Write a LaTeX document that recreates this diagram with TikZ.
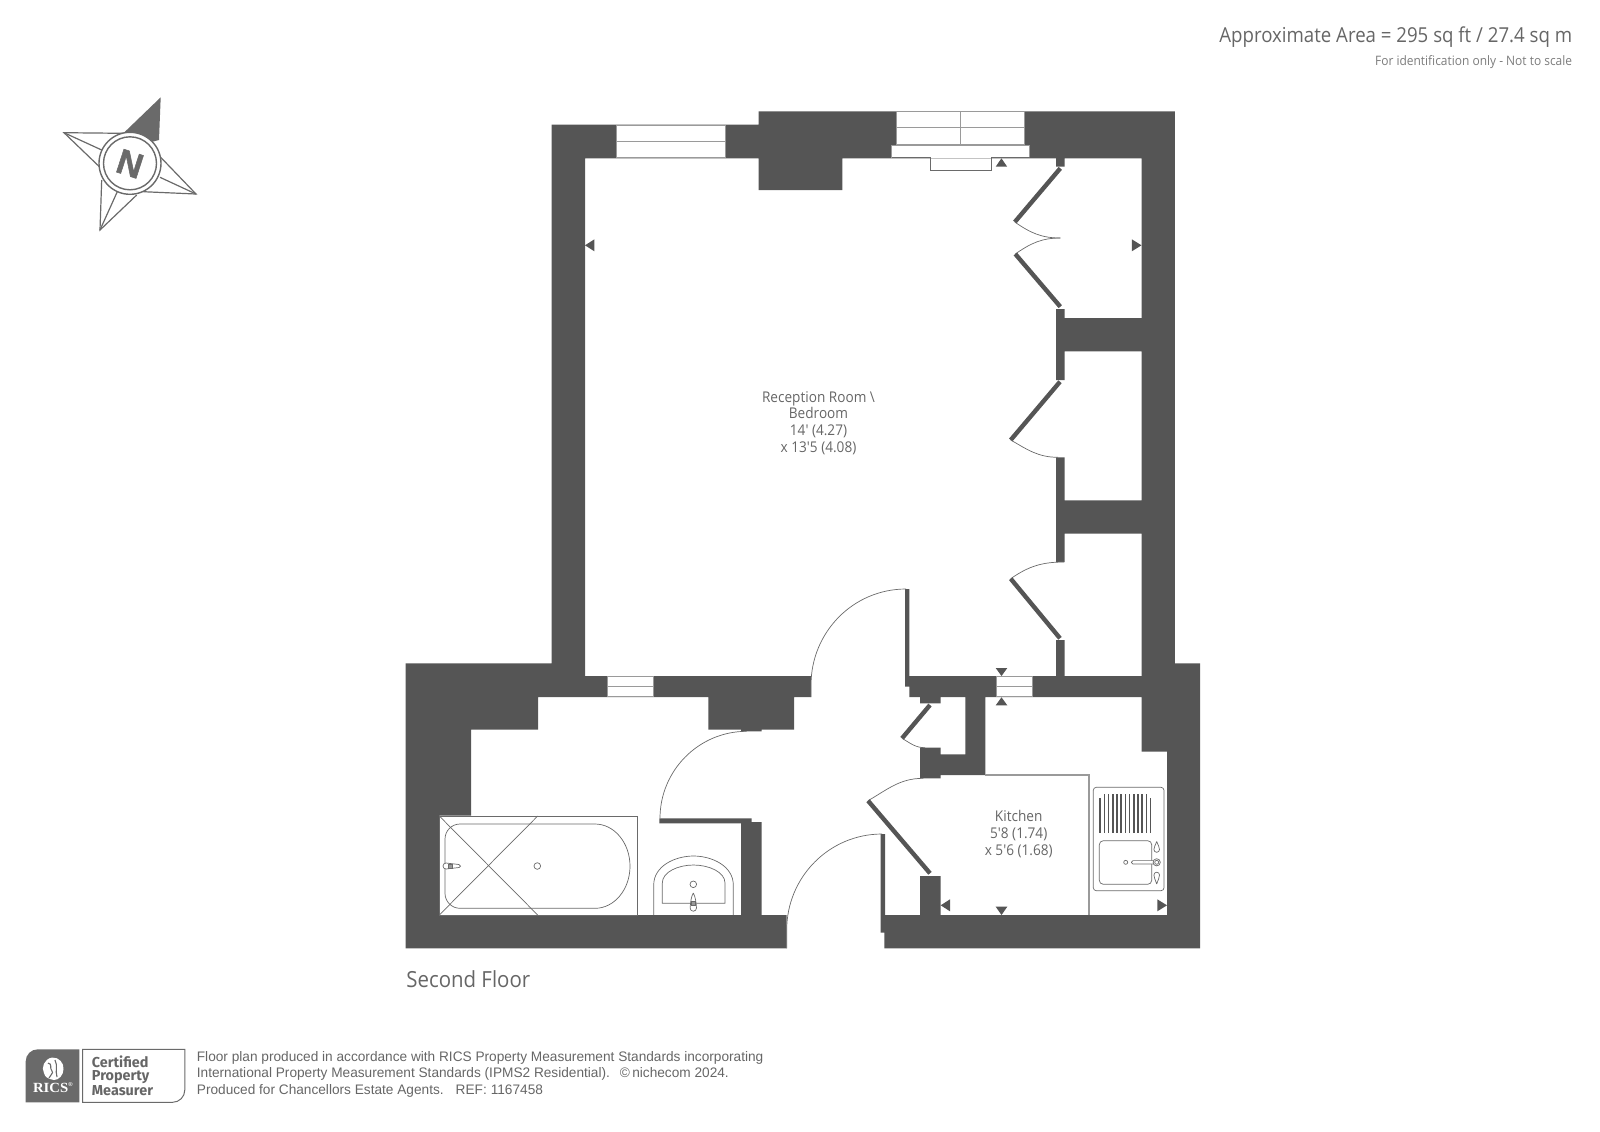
\documentclass[tikz,border=0pt]{standalone}
\usepackage{fontspec}
\setmainfont{Open Sans}
\newfontfamily\planfont[FakeStretch=0.92]{Open Sans}
\newfontfamily\areafont[FakeStretch=0.905]{Open Sans}
\newfontfamily\rulefont[FakeStretch=0.99]{Liberation Sans}
\newfontfamily\needlefont[UprightFont=* Bold, FakeBold=1.5]{Liberation Sans}
\newfontfamily\ricsfont[UprightFont=* Bold, FakeStretch=1.05]{Liberation Serif}
\newfontfamily\badgefont{Fira Sans}
\definecolor{wallgrey}{HTML}{555555}
\definecolor{linegrey}{HTML}{6A6A6A}
\definecolor{textgrey}{HTML}{666666}
\definecolor{notegrey}{HTML}{7C7C7C}
\definecolor{unitgrey}{HTML}{9A9A9A}

\begin{document}
\begin{tikzpicture}[
        x=0.5pt, y=-0.5pt,
        wall/.style={fill=wallgrey},
        thinline/.style={draw=linegrey, line width=0.35pt},
        pane/.style={fill=white, draw=unitgrey, line width=0.3pt},
        leaf/.style={draw=wallgrey, line width=2.2pt},
        swing/.style={draw=linegrey, line width=0.35pt},
        marker/.style={fill=wallgrey},
        roomtext/.style={font=\planfont\fontsize{7.4}{8.35}\selectfont, text=textgrey, align=center, inner sep=0pt},
        ruletext/.style={font=\rulefont\fontsize{6.9}{8}\selectfont, text=textgrey, anchor=west, inner sep=0pt},
        badgetext/.style={font=\badgefont\bfseries\fontsize{7.2}{7.2}\selectfont, text=textgrey, anchor=west, inner sep=0pt}
        ]
        \useasboundingbox (0,0) rectangle (1600,1131);

        % all the walls in one outline
        \fill[wall] (551.5,124.7) -- (758.5,124.7) -- (758.5,111.3) -- (1174.8,111.3) -- (1174.8,663.3) -- (1200,663.3)
            -- (1200,948.3) -- (884.3,948.3) -- (884.3,932.7) -- (880.7,932.7) -- (880.7,834) -- (885,834) -- (885,915)
            -- (920,915) -- (920,876) -- (940.7,876) -- (940.7,915) -- (1167,915) -- (1167,751.7) -- (1141.7,751.7)
            -- (1141.7,697) -- (985.3,697) -- (985.3,775) -- (940.7,775) -- (940.7,778.3) -- (920,778.3) -- (920,747.7)
            -- (940.7,747.7) -- (940.7,754.3) -- (965.3,754.3) -- (965.3,697) -- (940.7,697) -- (940.7,703.3) -- (920,703.3)
            -- (920,697) -- (909.3,697) -- (909.3,686.7) -- (905,686.7) -- (905,589) -- (909.3,589) -- (909.3,676)
            -- (1056,676) -- (1056,640) -- (1064.7,640) -- (1064.7,676) -- (1141.7,676) -- (1141.7,533.7) -- (1064.7,533.7)
            -- (1064.7,562) -- (1056,562) -- (1056,457.3) -- (1064.7,457.3) -- (1064.7,500.3) -- (1141.7,500.3)
            -- (1141.7,351.3) -- (1064.7,351.3) -- (1064.7,380) -- (1056,380) -- (1056,309) -- (1064.7,309) -- (1064.7,318)
            -- (1141.7,318) -- (1141.7,158.3) -- (1064.7,158.3) -- (1064.7,166.7) -- (1056,166.7) -- (1056,158.3)
            -- (842.3,158.3) -- (842.3,190) -- (758.5,190) -- (758.5,158.3) -- (585,158.3) -- (585,676) -- (811,676)
            -- (811,697) -- (794,697) -- (794,729.7) -- (761.7,729.7) -- (761.7,731.3) -- (741,731.3) -- (741,729.7)
            -- (708.3,729.7) -- (708.3,697) -- (538,697) -- (538,729.7) -- (471,729.7) -- (471,815.7) -- (439.3,815.7)
            -- (439.3,915) -- (741,915) -- (741,823.3) -- (659.3,823.3) -- (659.3,818.3) -- (751.7,818.3) -- (751.7,822)
            -- (761.7,822) -- (761.7,915) -- (786.7,915) -- (786.7,948.3) -- (405.7,948.3) -- (405.7,663.3) -- (551.5,663.3) -- cycle;

        % windows
        \draw[pane] (616.3,125.3) rectangle (724.9,141.7);
        \draw[pane] (616.3,141.7) rectangle (724.9,157.7);
        \draw[pane] (896.2,111.7) rectangle (960.5,127.7);
        \draw[pane] (960.5,111.7) rectangle (1024.5,127.7);
        \draw[pane] (896.2,127.7) rectangle (960.5,144);
        \draw[pane] (960.5,127.7) rectangle (1024.5,144);
        \fill[white] (891.5,145) rectangle (1029.6,158.3);
        \draw[thinline, draw=unitgrey] (891.5,157.7) -- (891.5,145) -- (1029.6,145) -- (1029.6,157.7);
        \draw[thinline] (891.5,157.7) -- (930.2,157.7) -- (930.2,170.7) -- (990.9,170.7) -- (990.9,157.7) -- (1029.6,157.7);
        \draw[pane] (607,676.7) rectangle (653,686.7);
        \draw[pane] (607,686.7) rectangle (653,696.7);
        \draw[pane] (996.3,676.7) rectangle (1032,686.7);
        \draw[pane] (996.3,686.7) rectangle (1032,696.7);

        % doors
        \draw[leaf] (1060.3,168.3) -- (1014.8,222);
        \draw[swing] (1014.8,222) to[out=-35, in=180] (1060.3,238);
        \draw[swing] (1015.3,254) to[out=35, in=180] (1060.3,238);
        \draw[leaf] (1015.3,254) -- (1060.3,306.7);
        \draw[leaf] (1060,381.7) -- (1010.7,440);
        \draw[swing] (1010.7,440) to[out=-30, in=180] (1058,457.3);
        \draw[swing] (1010.7,578.7) to[out=35, in=180] (1064,562);
        \draw[leaf] (1010.7,578.7) -- (1060,638.3);
        \draw[swing] (811,697) -- (811,685) to[out=90, in=180] (906,589);
        \draw[swing] (660,818.3) to[out=90, in=180] (746.7,731.3);
        \draw[swing] (786.7,948.3) -- (786.7,930) to[out=90, in=180] (882,834);
        \draw[leaf] (930,705) -- (902,738.3);
        \draw[swing] (902,738.3) to[out=-30, in=180] (925,747.7);
        \draw[swing] (868,800.7) to[out=30, in=180] (923.3,778.3);
        \draw[leaf] (868,800.7) -- (930,873.3);

        % triangles on the walls
        \fill[marker] (1001.4,158.3) -- (995.7,166.7) -- (1007.2,166.7) -- cycle;
        \fill[marker] (585,245.3) -- (594.4,239.3) -- (594.4,251.3) -- cycle;
        \fill[marker] (1141.5,245.3) -- (1131.8,239.3) -- (1131.8,251.3) -- cycle;
        \fill[marker] (1001.5,676) -- (995.7,668) -- (1007.3,668) -- cycle;
        \fill[marker] (1001.5,697.3) -- (995.7,705.3) -- (1007.3,705.3) -- cycle;
        \fill[marker] (940.7,905.3) -- (950,899.3) -- (950,911.3) -- cycle;
        \fill[marker] (1001.5,915) -- (995.7,906.7) -- (1007.3,906.7) -- cycle;
        \fill[marker] (1167,905.3) -- (1157.3,899.3) -- (1157.3,911.3) -- cycle;

        % bath
        \draw[thinline, fill=white] (439.3,816) rectangle (637.7,915);
        \draw[thinline] (595,824) arc[start angle=-90, end angle=90, x radius=35, y radius=42.15] -- (460,908.3)
            arc[start angle=90, end angle=180, radius=15] -- (445,839) arc[start angle=180, end angle=270, radius=15] -- cycle;
        \draw[thinline] (439.3,816) -- (537.7,915);
        \draw[thinline] (439.3,915) -- (537.7,816);
        \draw[thinline, fill=white] (537.3,866) circle (3.3);
        \draw[thinline, fill=white] (446,863) -- (459,864.5) arc[start angle=-90, end angle=90, radius=1.5] -- (446,869) arc[start angle=90, end angle=270, radius=3] -- cycle;
        \draw[thinline, fill=wallgrey!60] (448.7,864) rectangle (452.7,868);

        % wash basin
        \draw[thinline] (653.7,915) -- (653.7,885) .. controls (653.7,866) and (675,856) .. (693.5,856)
            .. controls (712,856) and (733.3,866) .. (733.3,885) -- (733.3,915);
        \draw[thinline] (662.3,903.3) -- (662.3,883) .. controls (662.3,872) and (678,865) .. (693.5,865)
            .. controls (709,865) and (725,872) .. (725,883) -- (725,903.3) -- cycle;
        \draw[thinline] (693.3,884.3) circle (3.3);
        \draw[thinline, fill=white] (693.3,893) .. controls (695.5,897) and (696,902) .. (696.5,908)
            arc[start angle=0, end angle=180, radius=3.2] .. controls (690.6,902) and (691,897) .. (693.3,893);
        \draw[thinline, fill=wallgrey!60] (691.3,901.5) rectangle (695.3,905.5);

        % kitchen fittings
        \draw[draw=unitgrey, line width=0.6pt] (985.3,775) -- (1089,775) -- (1089,915);
        \draw[thinline, rounded corners=1.5pt] (1093.3,787.3) rectangle (1164,890.7);
        \draw[thinline, rounded corners=2pt] (1099.3,840.7) rectangle (1151.7,884.3);
        \foreach \hobx in {1104.3,1108.5,1112.7,1116.9,1121.1,1125.3,1129.5,1133.7,1137.9,1142.1,1146.3}
            \draw[wallgrey, line width=0.8pt] (\hobx,794) -- (\hobx,832.7);
        \draw[wallgrey, line width=0.8pt] (1100.1,798.3) -- (1100.1,832.7);
        \draw[wallgrey, line width=0.8pt] (1150.5,798.3) -- (1150.5,832.7);
        \draw[thinline] (1125.7,862.3) circle (2);
        \draw[thinline, fill=white, rounded corners=0.7pt] (1131.5,860.6) rectangle (1155,864);
        \draw[thinline, fill=white] (1156.7,862.3) circle (3.6);
        \draw[thinline] (1156.7,862.3) circle (2);
        \draw[thinline, fill=white] (1156.7,841.5) .. controls (1158,845) and (1159.5,847) .. (1159.5,849.5)
            arc[start angle=0, end angle=180, radius=2.8] .. controls (1153.9,847) and (1155.4,845) .. (1156.7,841.5);
        \draw[thinline, fill=white] (1156.7,884) .. controls (1158,880) and (1159.5,877.5) .. (1159.5,875)
            arc[start angle=0, end angle=-180, radius=2.8] .. controls (1153.9,877.5) and (1155.4,880) .. (1156.7,884);

        % compass
        \draw[thinline, line width=0.6pt] (123.3,133.3) -- (64,132.7) -- (100,167.3);
        \draw[thinline, line width=0.6pt] (64,132.7) -- (101.7,150);
        \fill[linegrey] (160.7,97.3) -- (123.3,133.3) -- (140,145) -- (159,140) -- cycle;
        \draw[thinline, line width=0.6pt] (160.7,157.3) -- (196,194) -- (143.3,191.7);
        \draw[thinline, line width=0.6pt] (196,194) -- (160,177.3);
        \draw[thinline, line width=0.6pt] (101.7,180) -- (100,230) -- (136.7,195);
        \draw[thinline, line width=0.6pt] (100,230) -- (117.3,191.7);
        \draw[thinline, line width=0.7pt, fill=white] (130,163.3) circle (31);
        \draw[thinline, line width=0.7pt] (130,163.3) circle (26.5);
        \node (needle) [font=\needlefont\fontsize{17.5}{17.5}\selectfont, text=linegrey, rotate=-18, inner sep=0pt] at (130,163.8) {N};

        % texts
        \node (area) [font=\areafont\fontsize{10.3}{12}\selectfont, text=textgrey, anchor=east, inner sep=0pt] at (1572.5,37) {Approximate Area = 295 sq ft / 27.4 sq m};
        \node (note) [font=\planfont\fontsize{6.5}{8}\selectfont, text=notegrey, anchor=east, inner sep=0pt] at (1572.5,62.5) {For identification only - Not to scale};
        \node (reception) [roomtext] at (818.5,423) {Reception Room \textbackslash\\ Bedroom\\ 14' (4.27)\\ x 13'5 (4.08)};
        \node (kitchen) [roomtext] at (1018.7,834) {Kitchen\\ 5'8 (1.74)\\ x 5'6 (1.68)};
        \node (floor) [font=\planfont\fontsize{11.1}{12}\selectfont, text=textgrey, anchor=west, inner sep=0pt] at (406,979) {Second Floor};

        % certified badge
        \fill[linegrey] (25.7,1102.3) [rounded corners=6pt] -- (25.7,1049.3) [sharp corners] -- (79.3,1049.3) -- (79.3,1102.3) -- cycle;
        \draw[thinline, line width=0.5pt] (82.7,1102.3) -- (82.7,1049.3) -- (184.8,1049.3) -- (184.8,1090) arc[start angle=0, end angle=90, radius=12.3] -- cycle;
        \fill[white] (52,1057.5) .. controls (59,1057) and (64,1063) .. (63.5,1069) .. controls (63.5,1075) and (59,1080) .. (54,1080)
            .. controls (48,1079) and (45,1077) .. (44,1073) .. controls (41,1068) and (44,1059) .. (52,1057.5) -- cycle;
        \draw[linegrey, line width=0.55pt] (48,1063) .. controls (53,1064) and (49,1068) .. (52,1071) .. controls (54,1073) and (50,1075) .. (49,1078);
        \draw[linegrey, line width=0.55pt] (55,1060) .. controls (58,1066) and (55,1070) .. (57,1077);
        \node (rics) [font=\ricsfont\fontsize{7}{7}\selectfont, text=white, inner sep=0pt] at (53.5,1088) {RICS\textsuperscript{\fontsize{3}{3}\selectfont ®}};
        \node (certified) [badgetext] at (91.5,1062) {Certified};
        \node (property) [badgetext] at (91.5,1076.6) {Property};
        \node (measurer) [badgetext] at (91.5,1090.8) {Measurer};
        \node (rule1) [ruletext] at (196.5,1058) {Floor plan produced in accordance with RICS Property Measurement Standards incorporating};
        \node (rule2) [ruletext] at (196.5,1074.3) {International Property Measurement Standards (IPMS2 Residential).\hspace{5pt}©\,nichecom 2024.};
        \node (rule3) [ruletext] at (196.5,1090.5) {Produced for Chancellors Estate Agents.\hspace{6pt}REF:\hspace{2pt}1167458};
    \end{tikzpicture}
\end{document}
